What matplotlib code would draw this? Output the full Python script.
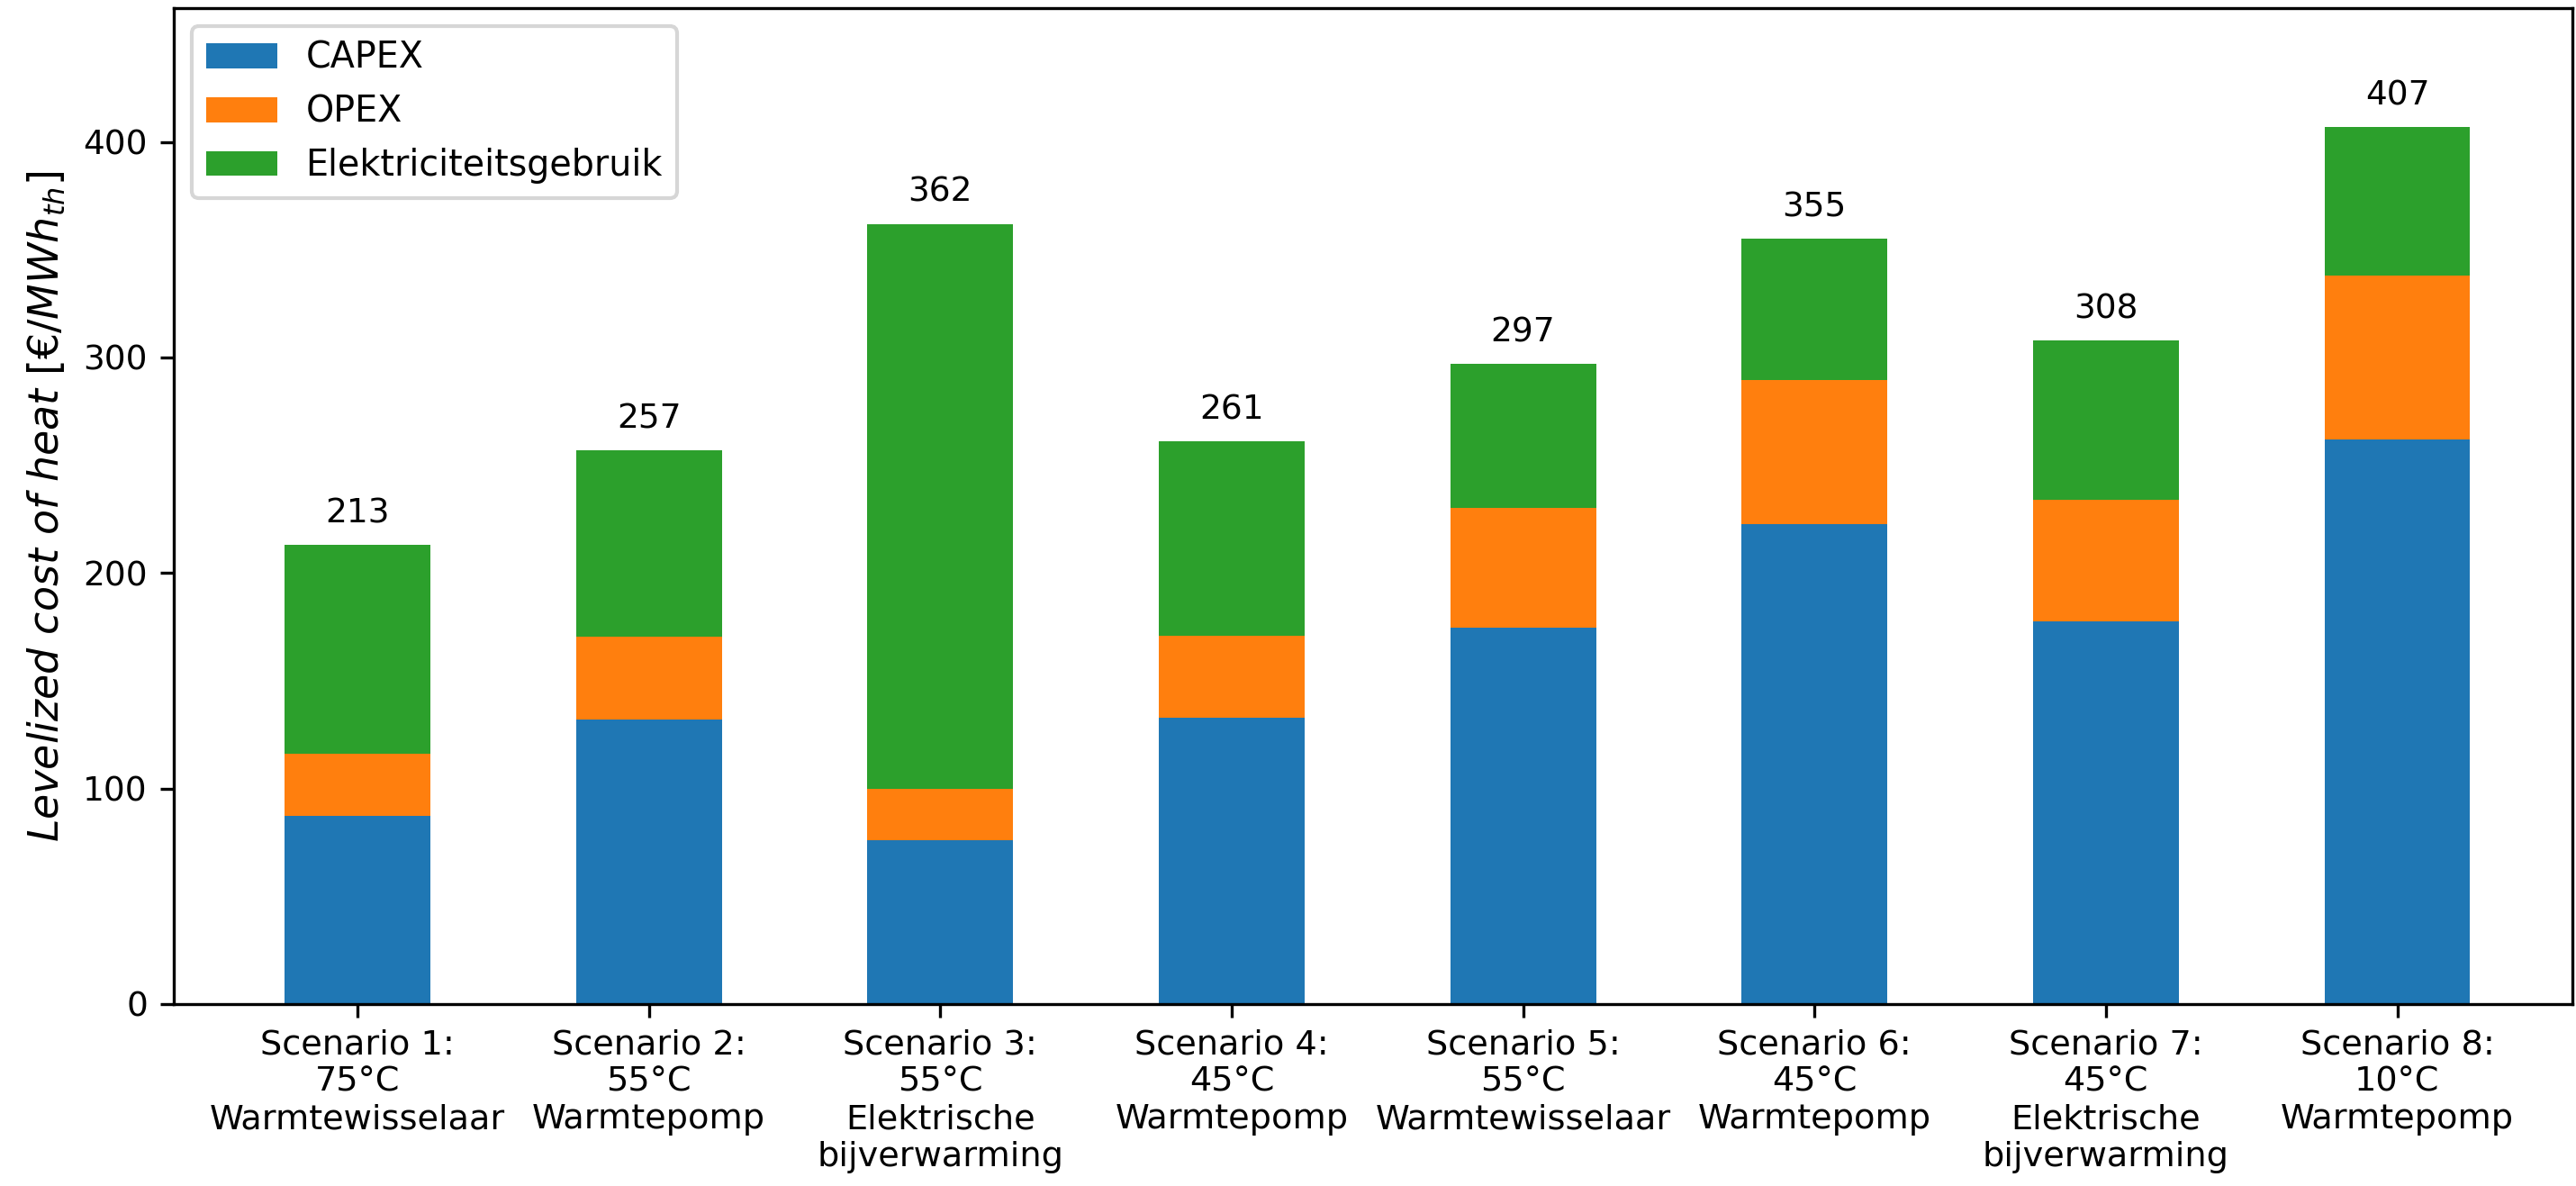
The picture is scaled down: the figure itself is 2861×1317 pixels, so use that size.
import matplotlib
matplotlib.use("Agg")
import matplotlib.pyplot as plt
import numpy as np

categories = [
    "Scenario 1:\n75°C\nWarmtewisselaar",
    "Scenario 2:\n55°C\nWarmtepomp",
    "Scenario 3:\n55°C\nElektrische\nbijverwarming",
    "Scenario 4:\n45°C\nWarmtepomp",
    "Scenario 5:\n55°C\nWarmtewisselaar",
    "Scenario 6:\n45°C\nWarmtepomp",
    "Scenario 7:\n45°C\nElektrische\nbijverwarming",
    "Scenario 8:\n10°C\nWarmtepomp",
]
capex = [87.5, 132, 76, 133, 174.5, 222.5, 177.5, 262]
opex = [28.5, 38.5, 24, 38, 55.5, 67, 56.5, 76]
elec = [97, 86.5, 262, 90, 67, 65.5, 74, 69]
series_names = ["CAPEX", "OPEX", "Elektriciteitsgebruik"]

plt.rcParams['font.family'] = ['DejaVu Sans']

fig = plt.figure(figsize=(2861/300, 1317/300), dpi=300)
ax = fig.add_axes([0.0675, 0.1534, 0.931, 0.8396])

x = np.arange(len(categories))
capex_a = np.array(capex)
opex_a = np.array(opex)
elec_a = np.array(elec)
w = 0.5
ax.bar(x, capex_a, w, color='#1f77b4', label=series_names[0])
ax.bar(x, opex_a, w, bottom=capex_a, color='#ff7f0e', label=series_names[1])
top = ax.bar(x, elec_a, w, bottom=capex_a + opex_a, color='#2ca02c', label=series_names[2])
totals = capex_a + opex_a + elec_a
ax.bar_label(top, labels=[f"{t:.0f}" for t in totals], padding=4, fontsize=9)

ax.set_xticks(x)
ax.set_xticklabels(categories, fontsize=9.2)
ax.tick_params(axis='x', pad=3)
ax.tick_params(axis='y', labelsize=9)
ax.set_xlim(-0.63, 7.6)
ax.set_ylim(0, 462)
ax.set_yticks([0, 100, 200, 300, 400])
ax.set_ylabel(r'$Levelized\ cost\ of\ heat\ [€/MWh_{th}]$', fontsize=11)
ax.legend(loc='upper left', fontsize=9.5)

fig.savefig("out.png", dpi=300)
